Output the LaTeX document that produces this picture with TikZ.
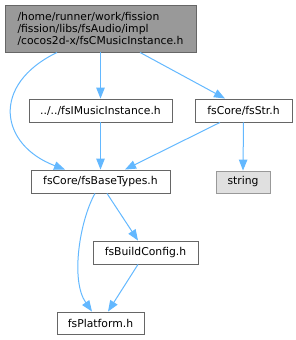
\documentclass[tikz,border=0pt]{standalone}
\usepackage{fontspec}
\setmainfont{DejaVu Sans}
\usetikzlibrary{arrows.meta}
\definecolor{edgec}{HTML}{63B8FF}
\tikzset{
  box/.style={draw=black!60, fill=white, line width=0.9pt, inner sep=0pt, font=\fontsize{10.8pt}{12pt}\selectfont},
  edge/.style={draw=edgec, line width=1pt, -{Triangle[length=11pt,width=8.5pt]}},
}
\begin{document}
\begin{tikzpicture}[x=1pt,y=-1pt]
\useasboundingbox (0,0) rectangle (296,340);
\node[box, fill=black!40, draw=black!60, minimum width=191pt, minimum height=47pt, align=left] (top) at (100.5,28.5)
  {/home/runner/work/fission\\/fission/libs/fsAudio/impl\\/cocos2d-x/fsCMusicInstance.h};
\node[box, minimum width=143pt, minimum height=23pt] (imus) at (100.5,110.5) {../../fsIMusicInstance.h};
\node[box, minimum width=97pt, minimum height=23pt] (str) at (243.5,110.5) {fsCore/fsStr.h};
\node[box, minimum width=139pt, minimum height=23pt] (base) at (100.5,181.5) {fsCore/fsBaseTypes.h};
\node[box, fill=black!12, draw=black!40, minimum width=54pt, minimum height=22pt] (string) at (243,182) {string};
\node[box, minimum width=105pt, minimum height=23pt] (build) at (145.5,252.5) {fsBuildConfig.h};
\node[box, minimum width=87pt, minimum height=22pt] (plat) at (100.5,323) {fsPlatform.h};

\draw[edge] ([xshift=-43.5pt]top.south) .. controls (-10,85) and (0,145) .. ([xshift=-35.5pt]base.north);
\draw[edge] (top.south) -- (imus.north);
\draw[edge] ([xshift=39.5pt]top.south) -- ([xshift=-18.5pt]str.north);
\draw[edge] (imus.south) -- (base.north);
\draw[edge] ([xshift=-23.5pt]str.south) -- ([xshift=24.5pt]base.north);
\draw[edge] (str.south) -- (string.north);
\draw[edge] ([xshift=6.5pt]base.south) -- ([xshift=-7.5pt]build.north);
\draw[edge] ([xshift=-5.5pt]base.south) .. controls (80,220) and (70,280) .. ([xshift=-8.5pt]plat.north);
\draw[edge] ([xshift=-7.5pt]build.south) -- ([xshift=7.5pt]plat.north);
\end{tikzpicture}
\end{document}
